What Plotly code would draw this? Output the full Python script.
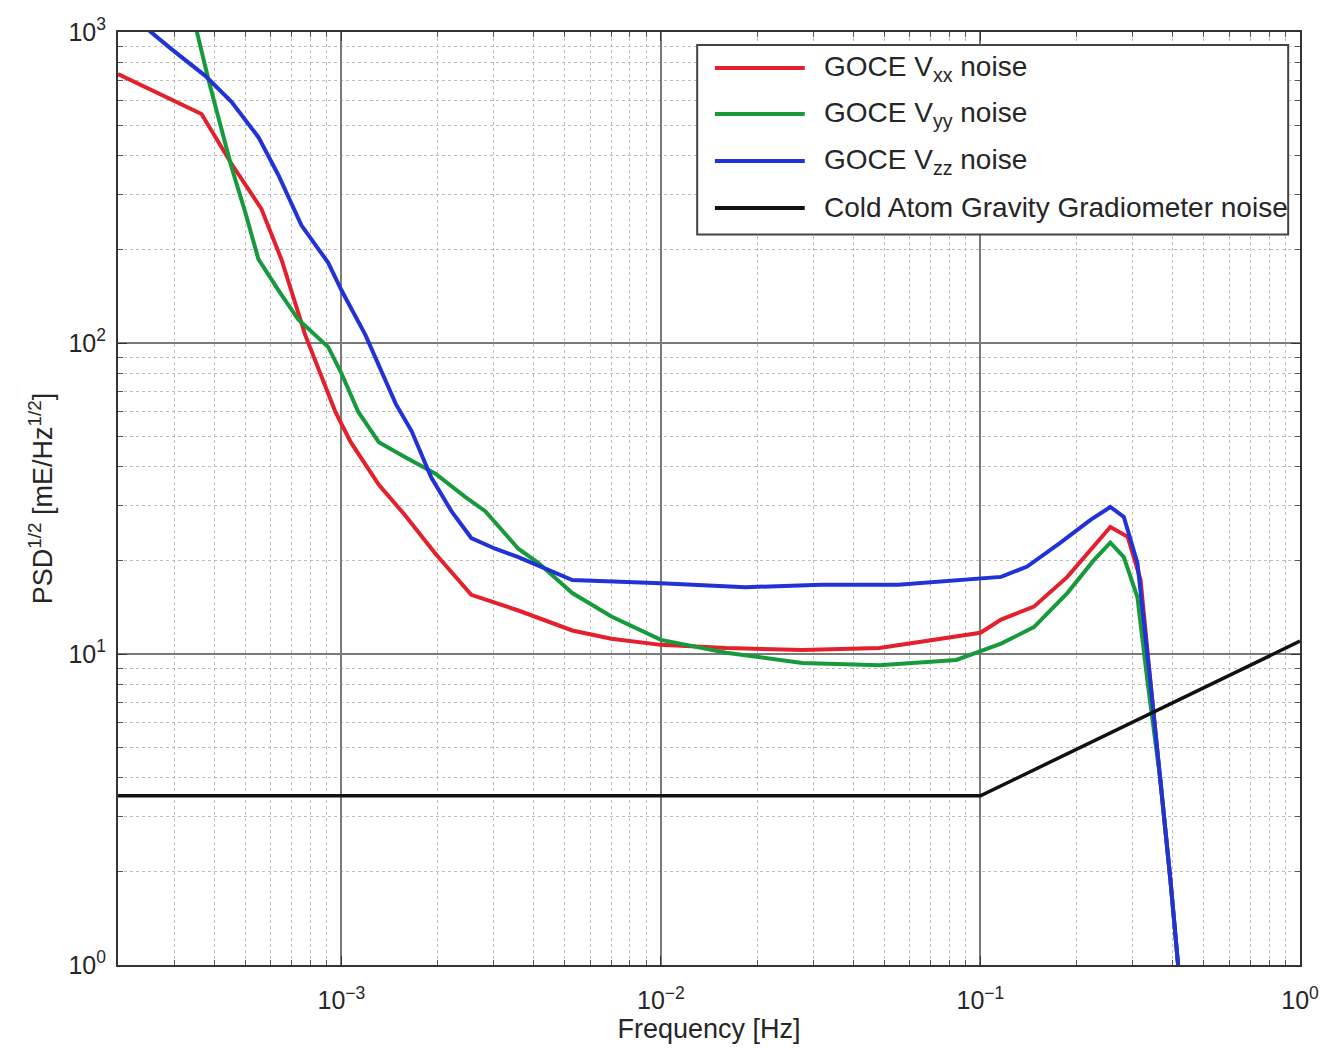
import plotly.graph_objects as go

# ---------------- data ----------------
freq_xx = [2.0e-4, 3.65e-4, 4.53e-4, 5.62e-4, 6.49e-4, 7.71e-4, 9.58e-4, 1.07e-3, 1.31e-3,
           1.58e-3, 1.97e-3, 2.55e-3, 3.58e-3, 5.28e-3, 7.0e-3, 1.0e-2, 1.6e-2, 2.77e-2,
           4.83e-2, 8.4e-2, 0.1, 0.116, 0.147, 0.187, 0.226, 0.255, 0.289, 0.317, 0.340,
           0.366, 0.393, 0.417]
psd_xx = [733, 545, 377, 270, 186, 106, 60, 48, 35,
          28, 21, 15.5, 13.8, 11.9, 11.2, 10.7, 10.45, 10.3,
          10.45, 11.4, 11.7, 12.9, 14.2, 17.7, 22.1, 25.6, 23.8, 17.3, 8.2,
          3.93, 1.88, 0.96]

freq_yy = [3.3e-4, 3.52e-4, 3.84e-4, 4.12e-4, 4.53e-4, 5.01e-4, 5.50e-4, 6.35e-4, 7.33e-4,
           9.1e-4, 1e-3, 1.13e-3, 1.31e-3, 1.58e-3, 1.97e-3, 2.44e-3, 2.82e-3, 3.58e-3,
           4.14e-3, 5.28e-3, 7.0e-3, 1e-2, 1.6e-2, 2.77e-2, 4.83e-2, 8.4e-2, 0.116, 0.147,
           0.187, 0.226, 0.255, 0.281, 0.310, 0.333, 0.366, 0.393, 0.417]
psd_yy = [1300, 1015, 701, 529, 368, 262, 186, 148, 119,
          97, 80, 60, 48, 43, 38, 32, 28.8, 21.8,
          19.6, 15.7, 13.2, 11.1, 10.1, 9.35, 9.2, 9.57, 10.8, 12.2,
          15.7, 20.0, 22.8, 20.5, 15.2, 8.2, 3.9, 1.88, 0.96]

freq_zz = [2.3e-4, 2.49e-4, 2.94e-4, 3.75e-4, 4.53e-4, 5.50e-4, 6.35e-4, 7.5e-4, 9.1e-4,
           1e-3, 1.19e-3, 1.48e-3, 1.66e-3, 1.91e-3, 2.21e-3, 2.55e-3, 3.03e-3, 3.58e-3,
           5.28e-3, 1e-2, 1.84e-2, 3.18e-2, 5.53e-2, 0.116, 0.140, 0.178, 0.221, 0.255,
           0.281, 0.310, 0.340, 0.366, 0.393, 0.417]
psd_zz = [1150, 1015, 881, 723, 596, 459, 347, 239, 181,
          148, 106, 63.7, 52, 37, 28.8, 23.6, 21.8, 20.5,
          17.3, 16.9, 16.4, 16.7, 16.7, 17.7, 19.1, 22.8, 27.0, 29.7,
          27.6, 19.6, 8.2, 3.9, 1.88, 0.96]

freq_cagg = [2e-4, 0.1, 1.0]
psd_cagg = [3.5, 3.5, 11.0]

series_names = ["GOCE V<sub>xx</sub> noise", "GOCE V<sub>yy</sub> noise",
                "GOCE V<sub>zz</sub> noise", "Cold Atom Gravity Gradiometer noise"]
series_colors = ["#e3202c", "#169a3c", "#2132d6", "#111111"]

x_tickvals = [1e-3, 1e-2, 1e-1, 1e0]
x_ticktext = ["10<sup>−3</sup>", "10<sup>−2</sup>", "10<sup>−1</sup>", "10<sup>0</sup>"]
y_tickvals = [1e0, 1e1, 1e2, 1e3]
y_ticktext = ["10<sup>0</sup>", "10<sup>1</sup>", "10<sup>2</sup>", "10<sup>3</sup>"]

# ---------------- figure ----------------
FONT = "Liberation Sans, Arial, Helvetica, sans-serif"
TXT = "#262626"
fig = go.Figure()
xs = [freq_xx, freq_yy, freq_zz, freq_cagg]
ys = [psd_xx, psd_yy, psd_zz, psd_cagg]
widths = [4, 4, 4, 3.5]
for x, y, name, col, w in zip(xs, ys, series_names, series_colors, widths):
    fig.add_trace(go.Scatter(x=x, y=y, mode="lines", name=name,
                             line=dict(color=col, width=w), showlegend=False))

minor_x = [m * 10 ** e for e in range(-4, 0) for m in range(2, 10)]
minor_y = [m * 10 ** e for e in range(0, 3) for m in range(2, 10)]

common = dict(type="log", showline=True, linecolor="#333", linewidth=2, mirror="allticks",
              ticks="inside", ticklen=9, tickwidth=1.2, tickcolor="#333",
              showgrid=True, gridcolor="#7a7a7a", gridwidth=1.6, zeroline=False,
              automargin=False,
              tickfont=dict(family=FONT, size=25, color=TXT))

fig.update_xaxes(range=[-3.699, 0], tickvals=x_tickvals, ticktext=x_ticktext,
                 ticklabelstandoff=12,
                 title=dict(text="Frequency [Hz]", font=dict(family=FONT, size=27, color=TXT),
                            standoff=4),
                 minor=dict(tickvals=minor_x, ticks="inside", ticklen=5, tickcolor="#555",
                            showgrid=True, gridcolor="#bdbdbd", griddash="dot", gridwidth=1.3),
                 **common)
fig.update_yaxes(range=[0, 3], tickvals=y_tickvals, ticktext=y_ticktext,
                 ticklabelstandoff=5,
                 title=dict(text="PSD<sup>1/2</sup> [mE/Hz<sup>1/2</sup>]",
                            font=dict(family=FONT, size=27, color=TXT), standoff=8),
                 minor=dict(tickvals=minor_y, ticks="inside", ticklen=5, tickcolor="#555",
                            showgrid=True, gridcolor="#bdbdbd", griddash="dot", gridwidth=1.3),
                 **common)

# ---------------- legend (drawn manually to match MATLAB style) ----------------
fig.add_shape(type="rect", xref="paper", yref="paper", x0=0.490, x1=0.990, y0=0.783, y1=0.986,
              line=dict(color="#444", width=2), fillcolor="white", layer="above")
item_y = [0.9614, 0.9121, 0.8617, 0.8114]
for yy, name, col in zip(item_y, series_names, series_colors):
    fig.add_shape(type="line", xref="paper", yref="paper", x0=0.505, x1=0.581, y0=yy, y1=yy,
                  line=dict(color=col, width=4), layer="above")
    fig.add_annotation(xref="paper", yref="paper", x=0.5956, y=yy, text=name, showarrow=False,
                       xanchor="left", yanchor="middle",
                       font=dict(family=FONT, size=28, color=TXT))

# page body adds an 8px offset, so the figure is sized/margined to land the plot box
# where the reference has it
fig.update_layout(width=1325, height=1045, paper_bgcolor="white", plot_bgcolor="white",
                  margin=dict(l=110, r=33, t=24, b=88, autoexpand=False), showlegend=False)

fig.write_html("out.html")
